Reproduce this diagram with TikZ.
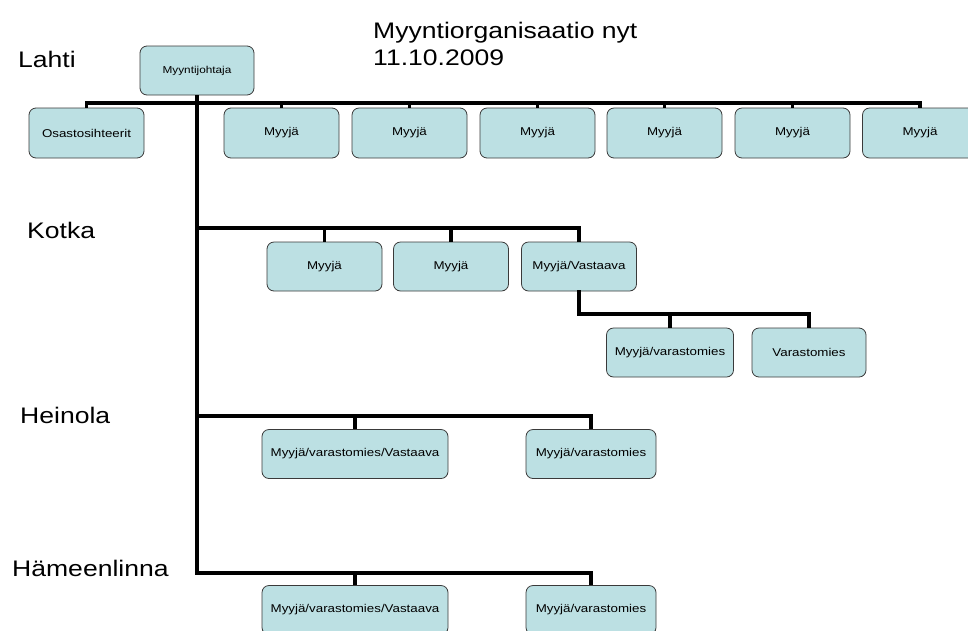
\documentclass[tikz,border=0pt]{standalone}
\usepackage{fontspec}
\setmainfont{Liberation Sans}
\newcommand{\widetext}[1]{\scalebox{1.18}[1]{#1}}
\definecolor{boxfill}{HTML}{BCE0E3}
\definecolor{boxline}{HTML}{3A3A3A}
\tikzset{
  orgbox/.style={draw=boxline, fill=boxfill, line width=0.8pt, rounded corners=7pt,
    inner sep=0pt, minimum height=49pt, font=\fontsize{11.3}{13}\selectfont},
  bus/.style={line width=3.6pt, line cap=rect},
  stub/.style={line width=3.2pt},
  place/.style={anchor=base west, inner sep=0pt, font=\fontsize{22.5}{27}\selectfont},
}
\begin{document}
\begin{tikzpicture}[x=1pt,y=-1pt]
\useasboundingbox (0,0) rectangle (968,630);

% heading and location names
\node[place] (title) at (373,38) {\widetext{Myyntiorganisaatio nyt}};
\node[place] (date) at (373,65) {\widetext{11.10.2009}};
\node[place] (lahti) at (18,67) {\widetext{Lahti}};
\node[place] (kotka) at (27,238) {\widetext{Kotka}};
\node[place] (heinola) at (20,423) {\widetext{Heinola}};
\node[place] (hml) at (12,576) {\widetext{Hämeenlinna}};

% Lahti
\node[orgbox, minimum width=114pt, minimum height=49pt, font=\fontsize{10}{12}\selectfont] (boss) at (197,70.5) {\widetext{Myyntijohtaja}};
\node[orgbox, minimum width=115pt, minimum height=50pt] (os) at (86.5,133) {\widetext{Osastosihteerit}};
\foreach \i/\x in {1/281.5, 2/409.5, 3/537.5, 4/664.5, 5/792.5, 6/920}
  \node[orgbox, minimum width=115pt, minimum height=50pt] (m\i) at (\x,133) {\widetext{Myyjä}};

% Kotka
\node[orgbox, minimum width=115pt] (k1) at (324.5,266.5) {\widetext{Myyjä}};
\node[orgbox, minimum width=115pt] (k2) at (451,266.5) {\widetext{Myyjä}};
\node[orgbox, minimum width=115pt] (k3) at (579,266.5) {\widetext{Myyjä/Vastaava}};
\node[orgbox, minimum width=127pt] (k4) at (670,352.5) {\widetext{Myyjä/varastomies}};
\node[orgbox, minimum width=114pt] (k5) at (809,352.5) {\widetext{Varastomies}};

% Heinola
\node[orgbox, minimum width=186pt] (h1) at (355,454) {\widetext{Myyjä/varastomies/Vastaava}};
\node[orgbox, minimum width=130pt] (h2) at (591,454) {\widetext{Myyjä/varastomies}};

% Hämeenlinna
\node[orgbox, minimum width=186pt] (l1) at (355,610) {\widetext{Myyjä/varastomies/Vastaava}};
\node[orgbox, minimum width=130pt] (l2) at (591,610) {\widetext{Myyjä/varastomies}};

% bus levels
\coordinate (yLahti) at (0,103);
\coordinate (yKotka) at (0,228);
\coordinate (ySub) at (0,314);
\coordinate (yHeinola) at (0,416);
\coordinate (yHml) at (0,573);

% trunk from the sales director down to Hämeenlinna
\draw[bus, line cap=butt] (boss.south) -- (boss.south |- yHml) -- (l2.north |- yHml) -- (l2.north);

% Lahti bus
\draw[bus] (os.north |- yLahti) -- (m6.north |- yLahti);
\foreach \n in {os, m1, m2, m3, m4, m5, m6}
  \draw[stub] (\n.north) -- (\n.north |- yLahti);

% Kotka bus
\draw[bus] (boss.south |- yKotka) -- (k3.north |- yKotka);
\foreach \n in {k1, k2, k3}
  \draw[stub] (\n.north) -- (\n.north |- yKotka);
\draw[bus] (k3.south) -- (k3.south |- ySub) -- (k5.north |- ySub);
\foreach \n in {k4, k5}
  \draw[stub] (\n.north) -- (\n.north |- ySub);

% Heinola bus
\draw[bus] (boss.south |- yHeinola) -- (h2.north |- yHeinola);
\foreach \n in {h1, h2}
  \draw[stub] (\n.north) -- (\n.north |- yHeinola);

% Hämeenlinna stub
\draw[stub] (l1.north) -- (l1.north |- yHml);
\end{tikzpicture}
\end{document}
